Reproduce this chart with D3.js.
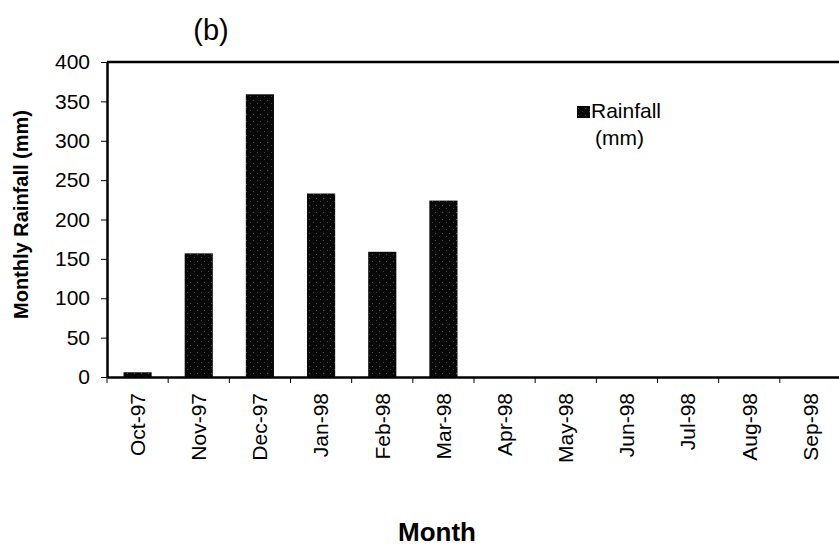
<!DOCTYPE html>
<html>
<head>
<meta charset="utf-8">
<script src="https://cdn.jsdelivr.net/npm/d3@7"></script>
<style>
    body { margin: 0; background: #fff; }
    text { font-family: "Liberation Sans", Arial, sans-serif; fill: #000; }
</style>
</head>
<body>
<div id="chart"></div>
<script>
// data
var months = ['Oct-97', 'Nov-97', 'Dec-97', 'Jan-98', 'Feb-98', 'Mar-98',
    'Apr-98', 'May-98', 'Jun-98', 'Jul-98', 'Aug-98', 'Sep-98'];
var rainfall = [6, 157, 359, 233, 159, 224, 0, 0, 0, 0, 0, 0];
var yTicks = [0, 50, 100, 150, 200, 250, 300, 350, 400];

var W = 839, H = 550,
    margin = {top: 62, left: 107},
    plotRight = 841,
    plotBottom = 377;

var svg = d3.select('#chart').append('svg')
    .attr('width', W)
    .attr('height', H);

// speckled fill like the scanned bars
var defs = svg.append('defs');
var pat = defs.append('pattern')
    .attr('id', 'speckle')
    .attr('patternUnits', 'userSpaceOnUse')
    .attr('width', 7)
    .attr('height', 7);
pat.append('rect').attr('width', 7).attr('height', 7).attr('fill', '#080808');
pat.append('rect').attr('x', 1).attr('y', 2).attr('width', 1).attr('height', 1).attr('fill', '#555');
pat.append('rect').attr('x', 5).attr('y', 5).attr('width', 1).attr('height', 1).attr('fill', '#444');

var x = d3.scaleBand()
    .domain(months)
    .range([margin.left, plotRight])
    .paddingInner(0.54)
    .paddingOuter(0.27);

var y = d3.scaleLinear()
    .domain([0, 400])
    .range([plotBottom, margin.top]);

var gap = (x.step() - x.bandwidth()) / 2;

// bars
svg.append('g')
    .selectAll('rect')
    .data(rainfall)
    .enter()
    .append('rect')
    .attr('x', function (d, i) { return x(months[i]); })
    .attr('y', function (d) { return y(d); })
    .attr('width', x.bandwidth())
    .attr('height', function (d) { return y(0) - y(d); })
    .attr('fill', 'url(#speckle)');

// frame top line
svg.append('line')
    .attr('x1', margin.left).attr('x2', W)
    .attr('y1', y(400)).attr('y2', y(400))
    .attr('stroke', '#000').attr('stroke-width', 2.5);

// y axis
var yAxis = svg.append('g')
    .attr('transform', 'translate(' + margin.left + ',0)')
    .call(d3.axisLeft(y).tickValues(yTicks).tickSize(6).tickSizeOuter(0).tickPadding(11));
yAxis.select('.domain').attr('stroke-width', 2.5);
yAxis.selectAll('text').style('font-size', '21px');

// x axis, ticks sit on the category boundaries
var xAxis = svg.append('g')
    .attr('transform', 'translate(0,' + plotBottom + ')')
    .call(d3.axisBottom(x).tickSize(0).tickSizeOuter(0));
xAxis.select('.domain').attr('stroke-width', 2.5);
xAxis.selectAll('text')
    .style('font-size', '21px')
    .attr('transform', 'rotate(-90)')
    .attr('text-anchor', 'end')
    .attr('x', -16)
    .attr('y', 0)
    .attr('dy', '0.35em');

xAxis.selectAll('line.boundary')
    .data(months)
    .enter()
    .append('line')
    .attr('class', 'boundary')
    .attr('x1', function (d) { return x(d) - gap; })
    .attr('x2', function (d) { return x(d) - gap; })
    .attr('y1', 0).attr('y2', 6)
    .attr('stroke', '#000');

// titles
svg.append('text')
    .attr('x', 211).attr('y', 40)
    .attr('text-anchor', 'middle')
    .style('font-size', '29px')
    .text('(b)');

svg.append('text')
    .attr('transform', 'translate(28,' + ((margin.top + plotBottom) / 2 - 5) + ') rotate(-90)')
    .attr('text-anchor', 'middle')
    .style('font-size', '20px')
    .style('font-weight', 'bold')
    .text('Monthly Rainfall (mm)');

svg.append('text')
    .attr('x', 437).attr('y', 541)
    .attr('text-anchor', 'middle')
    .style('font-size', '26px')
    .style('font-weight', 'bold')
    .text('Month');

// legend
var legend = svg.append('g').attr('transform', 'translate(577,106)');
legend.append('rect')
    .attr('width', 13).attr('height', 12)
    .attr('fill', 'url(#speckle)');
legend.append('text')
    .attr('x', 14).attr('y', 12)
    .style('font-size', '21px')
    .text('Rainfall');
legend.append('text')
    .attr('x', 18).attr('y', 39)
    .style('font-size', '21px')
    .text('(mm)');
</script>
</body>
</html>
